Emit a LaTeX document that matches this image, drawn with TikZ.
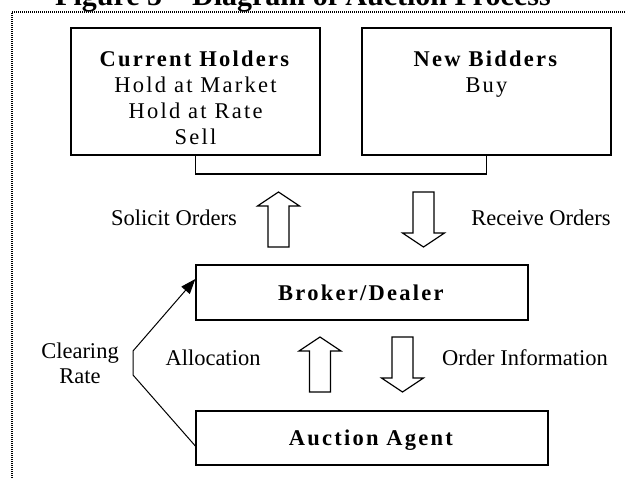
\documentclass[tikz,border=0pt]{standalone}
\usepackage{fontspec}
\setmainfont{Liberation Serif}
\newfontfamily\boxfont[LetterSpace=10]{Liberation Serif}
\usepackage{tikz}
\usetikzlibrary{arrows.meta}
\tikzset{>={Triangle[length=15pt,width=11pt]}}
\tikzset{
  bigbox/.style={draw, line width=1.3pt, inner sep=0pt},
  boxtext/.style={align=center, inner sep=0pt,
    font=\boxfont\fontsize{22.5}{26}\selectfont},
  tag/.style={align=center, inner sep=0pt,
    font=\fontsize{22.5}{25}\selectfont},
  blockarrow/.style={draw, line width=1.2pt, fill=white},
  uparrow/.pic={\draw[blockarrow] (-10.5,27.5) -- (-10.5,-13.5) -- (-21,-13.5)
    -- (0,-27.5) -- (21,-13.5) -- (10.5,-13.5) -- (10.5,27.5) -- cycle;},
  downarrow/.pic={\draw[blockarrow] (-10.5,-27.5) -- (-10.5,13.5) -- (-21,13.5)
    -- (0,27.5) -- (21,13.5) -- (10.5,13.5) -- (10.5,-27.5) -- cycle;}
}

\begin{document}
\begin{tikzpicture}[x=1pt,y=-1pt]
  \useasboundingbox (0,0) rectangle (626,478);

  % title, cut off at the top of the page
  \node[anchor=base west, inner sep=0pt, font=\bfseries\fontsize{30}{30}\selectfont]
    (title) at (55,6) {Figure 5 – Diagram of Auction Process};
  \draw[line width=1.5pt, dash pattern=on 1pt off 1pt] (12,478) -- (12,12) -- (626,12);

  % bidders (base = last line)
  \node[bigbox, minimum width=249pt, minimum height=127pt] (holders) at (195.5,91.5) {};
  \node[bigbox, minimum width=249pt, minimum height=127pt] (bidders) at (486.5,91.5) {};
  \node[boxtext, anchor=base] (holderstxt) at (195.5,145)
    {\textbf{Current Holders}\\Hold at Market\\Hold at Rate\\Sell};
  \node[boxtext, anchor=base] (bidderstxt) at (486.5,93) {\textbf{New Bidders}\\Buy};
  \coordinate (joinl) at (195.5,174);
  \coordinate (joinr) at (486.5,174);
  \draw[line width=1.3pt] (holders.south) -- (joinl) -- (joinr) -- (bidders.south);

  \pic (solicit) at (278.5,219.5) {uparrow};
  \pic (receive) at (423.5,219.5) {downarrow};
  \node[tag, anchor=base] (solicittxt) at (174,226) {Solicit Orders};
  \node[tag, anchor=base] (receivetxt) at (541,226) {Receive Orders};

  % broker and agent
  \node[bigbox, minimum width=332pt, minimum height=55pt] (broker) at (362,292.5) {};
  \node[boxtext, anchor=base] (brokertxt) at (362,300) {\textbf{Broker/Dealer}};

  \pic (alloc) at (320,364.5) {uparrow};
  \pic (orderinfo) at (402.5,364.5) {downarrow};
  \node[tag, anchor=base] (alloctxt) at (213,365) {Allocation};
  \node[tag, anchor=base] (orderinfotxt) at (525,365) {Order Information};

  \node[bigbox, minimum width=352pt, minimum height=54pt] (agent) at (372,438) {};
  \node[boxtext, anchor=base] (agenttxt) at (372,445) {\textbf{Auction Agent}};

  % clearing rate goes back to the broker
  \coordinate (bendlow) at (133,375);
  \coordinate (bendhigh) at (133,351);
  \draw[line width=1pt, ->] ([yshift=-8pt]agent.west) -- (bendlow) -- (bendhigh)
    -- ([yshift=13.5pt]broker.west);
  \node[tag, anchor=base] (clearing) at (80,383) {Clearing\\Rate};

\end{tikzpicture}
\end{document}
